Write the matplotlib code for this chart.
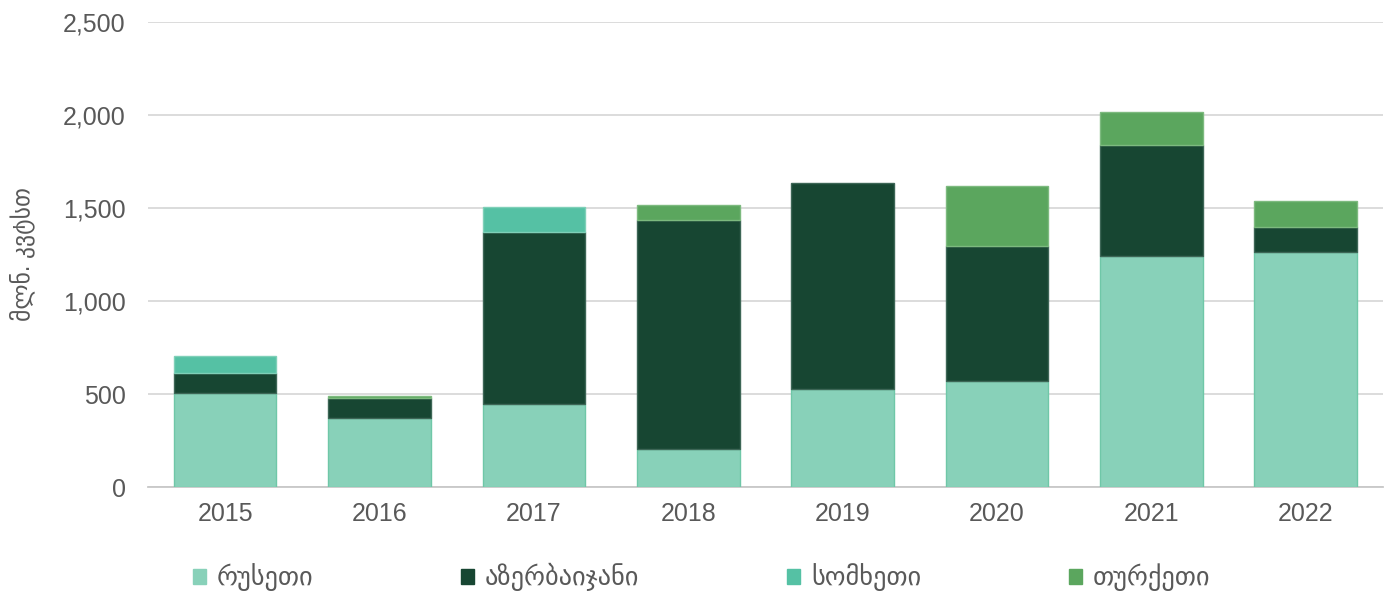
import numpy as np
import matplotlib.pyplot as plt
from matplotlib.patches import Patch

plt.rcParams['font.family'] = ['Liberation Sans', 'DejaVu Sans']

years = ['2015', '2016', '2017', '2018', '2019', '2020', '2021', '2022']
russia = [505, 371, 446, 204, 527, 570, 1242, 1263]
azerbaijan = [108, 107, 925, 1231, 1107, 726, 597, 135]
armenia = [91, 0, 134, 0, 0, 0, 0, 0]
turkey = [0, 11, 0, 81, 0, 322, 177, 140]

names = ['რუსეთი', 'აზერბაიჯანი', 'სომხეთი', 'თურქეთი']
colors = ['#88d1b9', '#174632', '#55c1a4', '#5ba65e']
edges = ['#6fc7a8', '#3d6656', '#7fd0b8', '#7dba7f']

fig = plt.figure(figsize=(13.92, 5.94), dpi=100)
ax = fig.add_axes([0.1063, 0.1801, 0.8872, 0.7829])

x = np.arange(len(years))
bottom = np.zeros(len(years))
for vals, c, ec in zip([russia, azerbaijan, armenia, turkey], colors, edges):
    vals = np.array(vals, dtype=float)
    lw = [1 if v > 0 else 0 for v in vals]
    ax.bar(x, vals, width=0.665, bottom=bottom, color=c, edgecolor=ec,
           linewidth=lw, zorder=3)
    bottom += vals

ax.set_xlim(-0.5, len(years) - 0.5)
ax.set_ylim(0, 2500)
ax.set_yticks(np.arange(0, 2501, 500))
ax.set_yticklabels([f'{v:,}' for v in range(0, 2501, 500)])
ax.set_xticks(x)
ax.set_xticklabels(years)
ax.grid(axis='y', color='#d9d9d9', linewidth=1.3, zorder=0)
for s in ['top', 'right', 'left']:
    ax.spines[s].set_visible(False)
ax.spines['bottom'].set_color('#c8c8c8')
ax.spines['bottom'].set_linewidth(1.3)
ax.tick_params(axis='both', length=0, labelsize=18, labelcolor='#595959')
ax.tick_params(axis='x', pad=11)
ax.tick_params(axis='y', pad=16)
ax.set_ylabel('მლნ. კვტსთ', fontsize=17, color='#595959', labelpad=20)

handles = [Patch(facecolor=c, edgecolor=c) for c in colors]
fig.legend(handles, names, loc='center', bbox_to_anchor=(0.504, 0.028), ncol=4,
           frameon=False, fontsize=19, labelcolor='#595959', handlelength=0.5,
           handleheight=0.5, handletextpad=0.4, columnspacing=5.6)

fig.savefig('out.png', dpi=100)
